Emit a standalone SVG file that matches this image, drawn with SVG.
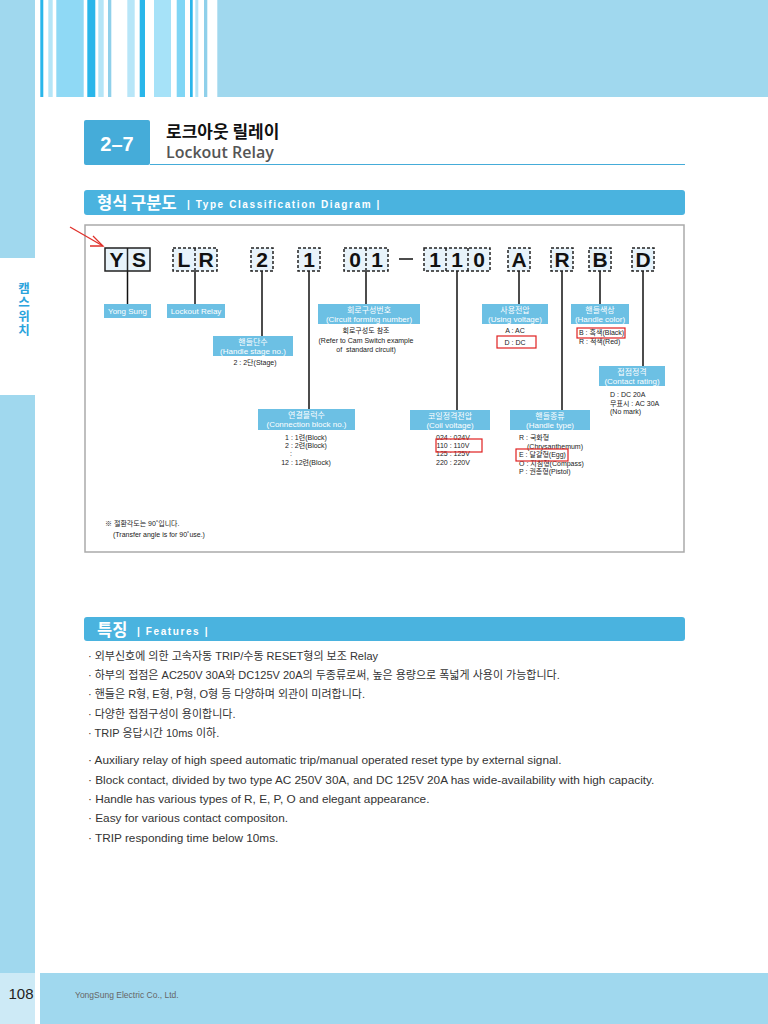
<svg xmlns="http://www.w3.org/2000/svg" width="768" height="1024" viewBox="0 0 768 1024">
<defs>
<style>
.f{font-family:"Liberation Sans","Noto Sans CJK KR",sans-serif}
.k{font-family:"Noto Sans CJK KR","Liberation Sans",sans-serif}
.code{fill:#e8f3fa;stroke:#222;stroke-width:1.5}
.dash{stroke-dasharray:3 2}
.ct{font-family:"Liberation Sans",sans-serif;font-weight:bold;font-size:21px;fill:#111;text-anchor:middle}
.lb{fill:#6cc0e4}
.lt{font-family:"Liberation Sans","Noto Sans CJK KR",sans-serif;font-size:8px;fill:#fff;text-anchor:middle}
.st{font-family:"Liberation Sans","Noto Sans CJK KR",sans-serif;font-size:7px;fill:#222}
.conn{stroke:#111;stroke-width:1.5;fill:none}
.red{fill:none;stroke:#e02020;stroke-width:1.2}
.ftk{font-family:"Liberation Sans","Noto Sans CJK KR",sans-serif;font-size:11px;fill:#333}
.fte{font-family:"Liberation Sans","Noto Sans CJK KR",sans-serif;font-size:11.8px;fill:#333}
</style>
</defs>
<rect width="768" height="1024" fill="#fff"/>
<!-- sidebar -->
<rect x="0" y="0" width="35" height="258" fill="#a0d8ee"/>
<rect x="0" y="395" width="35" height="578" fill="#a0d8ee"/>
<rect x="0" y="973" width="35" height="51" fill="#cdeaf6"/>
<!-- top stripes -->
<g id="stripes">
<rect x="40.3" y="0" width="3" height="97" fill="#29b6ea"/>
<rect x="48.3" y="0" width="4.4" height="97" fill="#b5e5f7"/>
<rect x="56.3" y="0" width="27.4" height="97" fill="#8fd9f5"/>
<rect x="87.3" y="0" width="8" height="97" fill="#29b6ea"/>
<rect x="98.3" y="0" width="5.4" height="97" fill="#b5e5f7"/>
<rect x="108" y="0" width="3.3" height="97" fill="#8fd0ea"/>
<rect x="127.3" y="0" width="7.4" height="97" fill="#b8e6f8"/>
<rect x="139.7" y="0" width="5.3" height="97" fill="#29b6ea"/>
<rect x="154" y="0" width="17" height="97" fill="#a6e2f8"/>
<rect x="176.7" y="0" width="8.3" height="97" fill="#80d6f5"/>
<rect x="190" y="0" width="2.7" height="97" fill="#29b6ea"/>
<rect x="195.3" y="0" width="3" height="97" fill="#b5e5f7"/>
<rect x="204" y="0" width="3.3" height="97" fill="#8fd0ea"/>
<rect x="217.3" y="0" width="550.7" height="97" fill="#a0d8ee"/>
</g>
<!-- side label -->
<text id="side-label" x="24" y="282" class="k" font-size="12.5" font-weight="bold" fill="#2aa3dc" letter-spacing="1.5" style="writing-mode:vertical-rl;text-orientation:upright">캠스위치</text>
<!-- title -->
<g id="title">
<rect x="84" y="120" width="66" height="45" rx="2" fill="#45acd9"/>
<text x="117" y="151" class="f" font-size="20" font-weight="bold" fill="#fff" text-anchor="middle">2–7</text>
<line x1="150" y1="164.5" x2="685" y2="164.5" stroke="#45acd9" stroke-width="1"/>
<text x="166" y="138" class="k" font-size="17" font-weight="bold" fill="#111">로크아웃 릴레이</text>
<text x="166" y="158" font-family="'Open Sans','Noto Sans',sans-serif" font-size="16" font-weight="600" fill="#555">Lockout Relay</text>
</g>
<!-- section header 1 -->
<g id="hdr-type">
<rect x="84" y="190" width="601" height="25" rx="3" fill="#4ab3df"/>
<text x="97" y="209" class="k" font-size="16.5" font-weight="bold" fill="#fff">형식 구분도</text>
<text x="187" y="207.5" class="f" font-size="10" font-weight="bold" fill="#fff" letter-spacing="1.6">| Type Classification Diagram |</text>
</g>
<!-- diagram frame -->
<rect x="85" y="225" width="599" height="327" fill="none" stroke="#aaa" stroke-width="1.5"/>
<!-- red arrow -->
<g id="red-arrow" stroke="#e0302a" stroke-width="1.3" fill="none">
<line x1="70" y1="227" x2="103" y2="246"/>
<polyline points="93,236 103,246 90,246"/>
</g>
<!-- connectors -->
<g id="connectors" class="conn">
<line x1="127.5" y1="271" x2="127.5" y2="304"/>
<line x1="195" y1="271" x2="195" y2="304"/>
<line x1="262" y1="271" x2="262" y2="336"/>
<line x1="309" y1="271" x2="309" y2="409"/>
<line x1="366" y1="271" x2="366" y2="304"/>
<line x1="457" y1="271" x2="457" y2="410"/>
<line x1="519" y1="271" x2="519" y2="304"/>
<line x1="562" y1="271" x2="562" y2="410"/>
<line x1="600" y1="271" x2="600" y2="304"/>
<line x1="643" y1="271" x2="643" y2="366"/>
<line x1="399" y1="259" x2="413" y2="259"/>
</g>
<!-- code boxes -->
<g id="code-YS">
<rect x="105" y="248" width="45" height="23" class="code"/>
<line x1="127.5" y1="248" x2="127.5" y2="271" stroke="#222" stroke-width="1.5"/>
<text x="116.5" y="267" class="ct">Y</text><text x="139" y="267" class="ct">S</text>
</g>
<g id="code-LR">
<rect x="173" y="248" width="44" height="23" class="code dash"/>
<line x1="195" y1="248" x2="195" y2="271" stroke="#222" stroke-width="1.5" class="dash"/>
<text x="184" y="267" class="ct">L</text><text x="206" y="267" class="ct">R</text>
</g>
<g id="code-2">
<rect x="251" y="248" width="22" height="23" class="code dash"/>
<text x="262" y="267" class="ct">2</text>
</g>
<g id="code-1">
<rect x="298" y="248" width="22" height="23" class="code dash"/>
<text x="309" y="267" class="ct">1</text>
</g>
<g id="code-01">
<rect x="344" y="248" width="44" height="23" class="code dash"/>
<line x1="366" y1="248" x2="366" y2="271" stroke="#222" stroke-width="1.5" class="dash"/>
<text x="355" y="267" class="ct">0</text><text x="377" y="267" class="ct">1</text>
</g>
<g id="code-110">
<rect x="424" y="248" width="66" height="23" class="code dash"/>
<line x1="446" y1="248" x2="446" y2="271" stroke="#222" stroke-width="1.5" class="dash"/>
<line x1="468" y1="248" x2="468" y2="271" stroke="#222" stroke-width="1.5" class="dash"/>
<text x="435" y="267" class="ct">1</text><text x="457" y="267" class="ct">1</text><text x="479" y="267" class="ct">0</text>
</g>
<g id="code-A">
<rect x="508" y="248" width="22" height="23" class="code dash"/>
<text x="519" y="267" class="ct">A</text>
</g>
<g id="code-R">
<rect x="551" y="248" width="22" height="23" class="code dash"/>
<text x="562" y="267" class="ct">R</text>
</g>
<g id="code-B">
<rect x="589" y="248" width="22" height="23" class="code dash"/>
<text x="600" y="267" class="ct">B</text>
</g>
<g id="code-D">
<rect x="632" y="248" width="22" height="23" class="code dash"/>
<text x="643" y="267" class="ct">D</text>
</g>
<!-- labels -->
<g id="lbl-yongsung">
<rect x="104" y="304" width="47" height="14" class="lb"/>
<text x="127.5" y="314" class="lt">Yong Sung</text>
</g>
<g id="lbl-lockout">
<rect x="167" y="304" width="58" height="14" class="lb"/>
<text x="196" y="314" class="lt">Lockout Relay</text>
</g>
<g id="lbl-circuit">
<rect x="318" y="304" width="102" height="20" class="lb"/>
<text x="369" y="312.5" class="lt">회로구성번호</text>
<text x="369" y="321.5" class="lt">(Circuit forming number)</text>
<text x="366" y="333" class="st" text-anchor="middle">회로구성도 참조</text>
<text x="366" y="343" class="st" text-anchor="middle">(Refer to Cam Switch example</text>
<text x="366" y="352" class="st" text-anchor="middle" xml:space="preserve">of  standard circuit)</text>
</g>
<g id="lbl-voltage">
<rect x="482" y="304" width="66" height="20" class="lb"/>
<text x="515" y="312.5" class="lt">사용전압</text>
<text x="515" y="321.5" class="lt">(Using voltage)</text>
<text x="515" y="333" class="st" text-anchor="middle">A : AC</text>
<text x="515" y="345" class="st" text-anchor="middle">D : DC</text>
<rect x="497" y="336" width="39" height="12" class="red"/>
</g>
<g id="lbl-color">
<rect x="571" y="304" width="58" height="20" class="lb"/>
<text x="600" y="312.5" class="lt">핸들색상</text>
<text x="600" y="321.5" class="lt">(Handle color)</text>
<text x="579" y="335" class="st" font-size="6.5">B : 흑색(Black)</text>
<text x="579" y="344" class="st" font-size="6.5">R : 적색(Red)</text>
<rect x="577" y="328" width="48" height="10" class="red"/>
</g>
<g id="lbl-stage">
<rect x="213" y="336" width="80" height="20" class="lb"/>
<text x="253" y="344.5" class="lt">핸들단수</text>
<text x="253" y="353.5" class="lt">(Handle stage no.)</text>
<text x="255" y="365" class="st" text-anchor="middle">2 : 2단(Stage)</text>
</g>
<g id="lbl-contact">
<rect x="599" y="366" width="66" height="20" class="lb"/>
<text x="632" y="374.5" class="lt">접점정격</text>
<text x="632" y="383.5" class="lt">(Contact rating)</text>
<text x="610" y="397" class="st">D : DC 20A</text>
<text x="610" y="406" class="st">무표시 : AC 30A</text>
<text x="610" y="414" class="st">(No mark)</text>
</g>
<g id="lbl-block">
<rect x="258" y="409" width="97" height="21" class="lb"/>
<text x="306.5" y="418" class="lt">연결블럭수</text>
<text x="306.5" y="427" class="lt">(Connection block no.)</text>
<text x="306" y="440" class="st" text-anchor="middle">1 : 1련(Block)</text>
<text x="306" y="448" class="st" text-anchor="middle">2 : 2련(Block)</text>
<text x="291" y="456" class="st" text-anchor="middle">:</text>
<text x="306" y="465" class="st" text-anchor="middle">12 : 12련(Block)</text>
</g>
<g id="lbl-coil">
<rect x="410" y="410" width="80" height="20" class="lb"/>
<text x="450" y="418.5" class="lt">코일정격전압</text>
<text x="450" y="427.5" class="lt">(Coil voltage)</text>
<text x="453" y="440" class="st" text-anchor="middle">024 : 024V</text>
<text x="453" y="448" class="st" text-anchor="middle">110 : 110V</text>
<text x="453" y="456" class="st" text-anchor="middle">125 : 125V</text>
<text x="453" y="465" class="st" text-anchor="middle">220 : 220V</text>
<rect x="436" y="439" width="46" height="13" class="red"/>
</g>
<g id="lbl-handle">
<rect x="510" y="410" width="80" height="20" class="lb"/>
<text x="550" y="418.5" class="lt">핸들종류</text>
<text x="550" y="427.5" class="lt">(Handle type)</text>
<text x="519" y="440" class="st">R : 국화형</text>
<text x="527" y="449" class="st">(Chrysanthemum)</text>
<text x="519" y="457" class="st">E : 달걀형(Egg)</text>
<text x="519" y="466" class="st">O : 지침형(Compass)</text>
<text x="519" y="474" class="st">P : 권총형(Pistol)</text>
<rect x="516" y="449" width="52" height="12" class="red"/>
</g>
<!-- note -->
<g id="note">
<text x="105" y="526" class="st">※ 절환각도는 90˚입니다.</text>
<text x="113" y="537" class="st">(Transfer angle is for 90˚use.)</text>
</g>
<!-- section header 2 -->
<g id="hdr-features">
<rect x="84" y="617" width="601" height="24" rx="3" fill="#4ab3df"/>
<text x="97" y="636" class="k" font-size="16.5" font-weight="bold" fill="#fff">특징</text>
<text x="137" y="634.5" class="f" font-size="10" font-weight="bold" fill="#fff" letter-spacing="1.6">| Features |</text>
</g>
<!-- features -->
<g id="features-ko" class="ftk">
<text x="88" y="660">· 외부신호에 의한 고속자동 TRIP/수동 RESET형의 보조 Relay</text>
<text x="88" y="679">· 하부의 접점은 AC250V 30A와 DC125V 20A의 두종류로써, 높은 용량으로 폭넓게 사용이 가능합니다.</text>
<text x="88" y="698">· 핸들은 R형, E형, P형, O형 등 다양하며 외관이 미려합니다.</text>
<text x="88" y="718">· 다양한 접점구성이 용이합니다.</text>
<text x="88" y="737">· TRIP 응답시간 10ms 이하.</text>
</g>
<g id="features-en" class="fte">
<text x="88" y="764">· Auxiliary relay of high speed automatic trip/manual operated reset type by external signal.</text>
<text x="88" y="784">· Block contact, divided by two type AC 250V 30A, and DC 125V 20A has wide-availability with high capacity.</text>
<text x="88" y="803">· Handle has various types of R, E, P, O and elegant appearance.</text>
<text x="88" y="822">· Easy for various contact compositon.</text>
<text x="88" y="842">· TRIP responding time below 10ms.</text>
</g>
<!-- footer -->
<g id="footer">
<rect x="40" y="973" width="728" height="51" fill="#a0d8ee"/>
<text x="21" y="999" class="f" font-size="15" fill="#222" text-anchor="middle">108</text>
<text x="75" y="998" class="f" font-size="8.5" fill="#666">YongSung Electric Co., Ltd.</text>
</g>
</svg>
